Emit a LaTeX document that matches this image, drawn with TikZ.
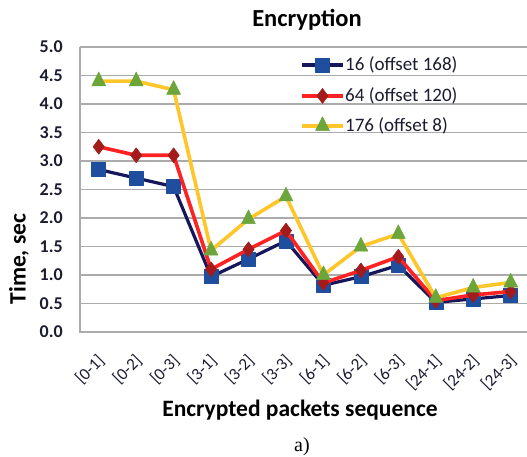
\documentclass[tikz,border=0pt]{standalone}
\usepackage{fontspec}
\setmainfont{Carlito}
\newfontfamily\capfont{Liberation Serif}
\usetikzlibrary{plotmarks}
\definecolor{gridgray}{HTML}{ABABAB}
\definecolor{navyline}{HTML}{16165A}
\definecolor{bluemark}{HTML}{1F4E9E}
\definecolor{redline}{HTML}{FF2222}
\definecolor{redmark}{HTML}{A31B1B}
\definecolor{yelline}{HTML}{FFC62A}
\definecolor{greenmark}{HTML}{6CA53A}
\definecolor{labtext}{HTML}{1C1C30}
\tikzset{
  gridline/.style={gridgray, line width=1.4pt},
  axisline/.style={gridgray, line width=1.4pt},
  ytick/.style={anchor=east, font=\fontsize{18}{18}\selectfont\bfseries, text=labtext, inner sep=0pt},
  xtick/.style={anchor=east, rotate=45, font=\fontsize{17}{17}\selectfont, text=labtext, inner sep=0pt},
  axtitle/.style={font=\fontsize{23.5}{23.5}\selectfont\bfseries, text=black, inner sep=0pt},
  legtext/.style={anchor=west, font=\fontsize{19}{19}\selectfont, text=labtext, inner sep=0pt},
  sA/.style={navyline, line width=3.2pt, line join=round, mark=square*, mark size=7pt, mark options={draw=bluemark, fill=bluemark, line width=0.5pt}},
  sB/.style={redline, line width=3.6pt, line join=round, mark=diamond*, mark size=7.5pt, mark options={draw=redmark, fill=redmark, line width=0.5pt}},
  sC/.style={yelline, line width=3.6pt, line join=round, mark=triangle*, mark size=8pt, mark options={draw=greenmark, fill=greenmark, line width=0.5pt, yscale=1.15}}
}
\begin{document}
\begin{tikzpicture}[x=1pt,y=1pt]
\useasboundingbox (0,0) rectangle (527,457);
\fill[white] (0,0) rectangle (527,457);
\begin{scope}[shift={(80,125)},x=37.45pt,y=57pt]
  \foreach \v in {0.5,1.0,...,5.0} \draw[gridline] (0,\v) -- (11.94,\v);
  \draw[axisline] (0,5) -- (0,0) -- (11.94,0);
  \foreach \v/\t in {0/0.0,0.5/0.5,1/1.0,1.5/1.5,2/2.0,2.5/2.5,3/3.0,3.5/3.5,4/4.0,4.5/4.5,5/5.0}
    \node[ytick] (yt\t) at ([xshift=-17pt]0,\v) {\t};
  \foreach \i/\t in {1/{[0-1]},2/{[0-2]},3/{[0-3]},4/{[3-1]},5/{[3-2]},6/{[3-3]},7/{[6-1]},8/{[6-2]},9/{[6-3]},10/{[24-1]},11/{[24-2]},12/{[24-3]}}
    \node[xtick] (xt\i) at ([xshift=3pt,yshift=-26pt]\i-0.5,0) {\t};
  \draw[sA] plot coordinates {(0.5,2.85) (1.5,2.70) (2.5,2.55) (3.5,0.97) (4.5,1.28) (5.5,1.60) (6.5,0.82) (7.5,0.97) (8.5,1.17) (9.5,0.52) (10.5,0.58) (11.5,0.64)};
  \draw[sB] plot coordinates {(0.5,3.25) (1.5,3.10) (2.5,3.10) (3.5,1.10) (4.5,1.45) (5.5,1.78) (6.5,0.86) (7.5,1.08) (8.5,1.32) (9.5,0.55) (10.5,0.65) (11.5,0.71)};
  \draw[sC] plot coordinates {(0.5,4.40) (1.5,4.40) (2.5,4.25) (3.5,1.43) (4.5,1.98) (5.5,2.38) (6.5,1.00) (7.5,1.50) (8.5,1.72) (9.5,0.60) (10.5,0.78) (11.5,0.87)};
\end{scope}
% legend
\coordinate (l1a) at (302,392); \coordinate (l1b) at (343,392);
\coordinate (l2a) at (302,361); \coordinate (l2b) at (343,361);
\coordinate (l3a) at (302,331); \coordinate (l3b) at (343,331);
\draw[navyline, line width=3.2pt] (l1a) -- (l1b);
\draw[sA] plot coordinates {(322.5,392)};
\draw[redline, line width=3.6pt] (l2a) -- (l2b);
\draw[sB] plot coordinates {(322.5,361)};
\draw[yelline, line width=3.6pt] (l3a) -- (l3b);
\draw[sC] plot coordinates {(322.5,331)};
\node[legtext] (lt1) at (345,392) {16 (offset 168)};
\node[legtext] (lt2) at (345,361) {64 (offset 120)};
\node[legtext] (lt3) at (345,331) {176 (offset 8)};
% titles
\node[axtitle, font=\fontsize{24.5}{24.5}\selectfont\bfseries] (title) at (307,437) {Encryption};
\node[axtitle] (xlab) at (300,47) {Encrypted packets sequence};
\node[axtitle, rotate=90] (ylab) at (19,198) {Time, sec};
\node[font=\capfont\fontsize{20}{20}\selectfont, inner sep=0pt] (cap) at (302,10) {a)};
\end{tikzpicture}
\end{document}
